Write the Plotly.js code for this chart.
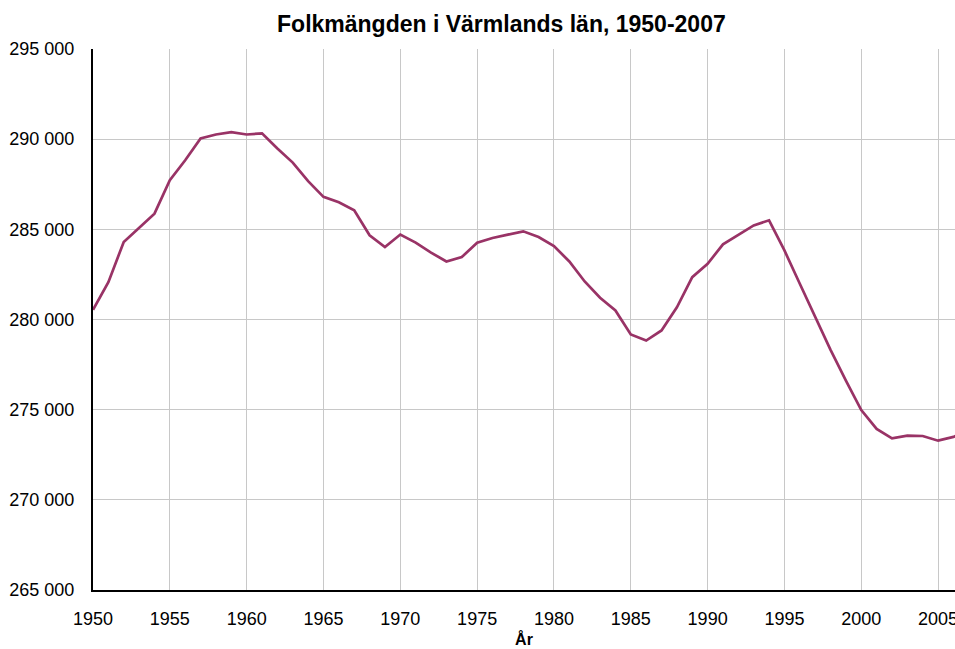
<!DOCTYPE html>
<html>
<head>
<meta charset="utf-8">
<script src="https://cdn.plot.ly/plotly-3.0.1.min.js"></script>
<style>html,body{margin:0;padding:0;background:#fff;overflow:hidden;}#chart{width:955px;height:649px;}</style>
</head>
<body>
<div id="chart"></div>
<script>
const years = [1950,1951,1952,1953,1954,1955,1956,1957,1958,1959,
  1960,1961,1962,1963,1964,1965,1966,1967,1968,1969,
  1970,1971,1972,1973,1974,1975,1976,1977,1978,1979,
  1980,1981,1982,1983,1984,1985,1986,1987,1988,1989,
  1990,1991,1992,1993,1994,1995,1996,1997,1998,1999,
  2000,2001,2002,2003,2004,2005,2006,2007];
const population = [280540,282070,284300,285070,285870,287720,288830,290040,290260,290390,
  290260,290320,289480,288700,287670,286800,286500,286060,284670,284020,
  284710,284260,283710,283220,283460,284260,284520,284710,284890,284570,
  284070,283220,282110,281210,280500,279170,278830,279390,280680,282350,
  283090,284170,284710,285220,285500,283830,281980,280130,278320,276610,
  274980,273930,273410,273560,273540,273280,273490,273815];
const yTicks = [265000,270000,275000,280000,285000,290000,295000];
const yTickText = ["265 000","270 000","275 000","280 000","285 000","290 000","295 000"];
const xTicks = [1950,1955,1960,1965,1970,1975,1980,1985,1990,1995,2000,2005];
const chartTitle = "Folkmängden i Värmlands län, 1950-2007";
const xTitle = "År";

const trace = {
  x: years, y: population, type: 'scatter', mode: 'lines',
  line: {color: '#993366', width: 2.7},
  hoverinfo: 'x+y'
};
const layout = {
  width: 955, height: 649,
  margin: {l: 93, r: 0, t: 49, b: 59},
  paper_bgcolor: '#ffffff', plot_bgcolor: '#ffffff',
  font: {family: '"Liberation Sans", Arial, sans-serif', color: '#000', size: 18},
  title: {text: '<b>' + chartTitle + '</b>', x: 0.525, xanchor: 'center', y: 0.963, yanchor: 'middle',
          font: {size: 23, color: '#000'}},
  showlegend: false,
  xaxis: {
    range: [1950, 2006.1], tickvals: xTicks, ticktext: xTicks.map(String),
    showgrid: true, gridcolor: '#c8c8c8', gridwidth: 1,
    showline: true, linecolor: '#000', linewidth: 2,
    zeroline: false, ticks: '', ticklabelstandoff: 11,
    ticklabeloverflow: 'allow',
    tickfont: {size: 18},
    title: {text: '<b>' + xTitle + '</b>', font: {size: 16}, standoff: 6}
  },
  yaxis: {
    range: [265000, 295000], tickvals: yTicks, ticktext: yTickText,
    showgrid: true, gridcolor: '#c8c8c8', gridwidth: 1,
    showline: true, linecolor: '#000', linewidth: 2,
    zeroline: false, ticks: '', ticklabelstandoff: 13,
    tickfont: {size: 18}
  }
};
Plotly.newPlot('chart', [trace], layout, {displayModeBar: false, staticPlot: true});
</script>
</body>
</html>
